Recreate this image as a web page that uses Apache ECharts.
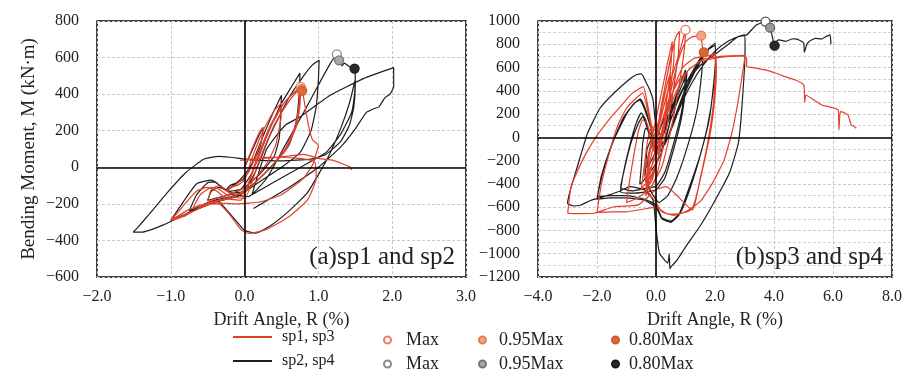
<!DOCTYPE html>
<html>
<head>
<meta charset="utf-8">
<title>Bending moment vs drift angle</title>
<script src="https://cdn.jsdelivr.net/npm/echarts@6/dist/echarts.min.js"></script>
<style>
  html, body { margin: 0; padding: 0; background: #fff; }
  #chart { width: 905px; height: 373px; }
</style>
</head>
<body>
<div id="chart"></div>
<script>
// drift angle R (%), bending moment M (kN·m)
var sp1Curve = [
  [0,0],[0.1,100],[0.2,190],[0.25,220],[0.24,160],[0.15,60],[0.05,-30],[-0.1,-90],[-0.25,-130],[-0.2,-110],[-0.1,-100],[0,-70],
  [0.1,50],[0.25,200],[0.4,310],[0.5,350],[0.49,260],[0.42,120],[0.3,20],[0.1,-80],[-0.1,-130],[-0.3,-160],[-0.5,-185],[-0.45,-120],[-0.35,-100],[-0.25,-130],[-0.1,-150],[0,-140],
  [0.15,30],[0.35,230],[0.55,360],[0.7,420],[0.75,435],[0.74,350],[0.68,220],[0.55,100],[0.35,0],[0.1,-100],[-0.15,-160],[-0.4,-185],[-0.7,-225],[-0.6,-150],[-0.45,-110],[-0.35,-120],[-0.2,-160],[0,-170],
  [0.2,40],[0.4,230],[0.6,360],[0.72,420],[0.76,430],[0.75,340],[0.7,220],[0.55,90],[0.3,-20],[0.05,-120],[-0.2,-170],[-0.45,-190],[-0.75,-230],[-1.0,-290],[-0.85,-220],[-0.65,-130],[-0.5,-110],[-0.38,-130],[-0.25,-170],[-0.05,-180],
  [0.15,20],[0.35,220],[0.55,360],[0.7,420],[0.77,432],[0.8,380],[0.86,240],[0.92,150],[1.0,120],[0.97,75],[0.93,20],[0.8,-60],[0.5,-150],[0.2,-190],[-0.1,-200],[-0.4,-195],[-0.7,-240],[-0.98,-290],[-0.8,-265],[-0.5,-200],[-0.35,-200],[-0.2,-260],[-0.05,-340],[0.05,-362],[0.3,-340],[0.6,-270],[0.85,-180],[0.97,-60],[0.95,30],[0.7,50],[0.3,55],[-0.06,38],[0.3,50],[0.5,56],[0.8,71],[1.02,47],[1.2,38],[1.43,2],[1.45,-15]
];
var sp2Curve = [
  [0,0],[0.1,90],[0.2,180],[0.25,215],[0.24,170],[0.2,100],[0.1,20],[0,-40],[-0.12,-90],[-0.25,-125],[-0.2,-100],[-0.1,-85],[0,-60],
  [0.1,20],[0.25,170],[0.4,310],[0.5,394],[0.49,300],[0.47,160],[0.4,60],[0.2,-40],[0,-110],[-0.2,-150],[-0.4,-170],[-0.5,-180],[-0.45,-130],[-0.35,-110],[-0.2,-130],[-0.05,-120],
  [0.1,-30],[0.3,170],[0.5,350],[0.65,450],[0.75,515],[0.74,400],[0.7,250],[0.6,120],[0.4,20],[0.15,-80],[-0.1,-150],[-0.4,-180],[-0.6,-210],[-0.75,-238],[-0.65,-150],[-0.5,-85],[-0.4,-80],[-0.3,-115],[-0.15,-140],[0,-130],
  [0.15,-20],[0.35,180],[0.6,380],[0.8,500],[0.92,560],[1.01,585],[1.0,480],[0.97,330],[0.9,200],[0.75,80],[0.5,0],[0.2,-80],[-0.1,-160],[-0.4,-190],[-0.7,-240],[-1.0,-290],[-0.85,-200],[-0.65,-90],[-0.45,-70],[-0.3,-110],[-0.15,-150],[0.05,-160],
  [0.3,-60],[0.55,120],[0.8,300],[1.0,450],[1.15,560],[1.25,618],[1.28,585],[1.32,555],[1.35,570],[1.42,550],[1.49,540],[1.5,460],[1.48,330],[1.42,230],[1.3,140],[1.1,70],[0.9,45],[0.5,35],[0.1,40],[-0.2,55],[-0.35,60],[-0.55,45],[-0.8,-30],[-1.05,-140],[-1.3,-260],[-1.45,-330],[-1.51,-355],[-1.4,-355],[-1.1,-315],[-0.8,-255],[-0.5,-195],[-0.38,-180],[-0.25,-230],[-0.1,-300],[0,-345],[0.15,-360],[0.35,-320],[0.6,-240],[0.85,-140],[1.0,-40],[1.15,70],[1.3,210],[1.42,350],[1.5,480],[1.49,400],[1.45,300],[1.3,180],[1.1,80],[0.8,10],[0.4,-80],[0.1,-150],
  [0.3,100],[0.55,230],[0.75,275],[1.16,394],[1.61,485],[2.02,545],[2.02,440],[1.97,400],[1.9,380],[1.82,330],[1.75,320],[1.65,300],[1.5,210],[1.3,110],[1.0,0],[0.6,-110],[0.12,-225]
];
var sp3Curve = [
  [0,0],[0.15,150],[0.3,300],[0.45,430],[0.5,480],[0.45,300],[0.3,100],[0.1,-100],[-0.1,-220],[-0.25,-300],[-0.3,-330],[-0.25,-200],[-0.15,-80],[0,-20],
  [0.2,250],[0.4,480],[0.5,560],[0.45,350],[0.3,100],[0.1,-150],[-0.2,-350],[-0.45,-430],[-0.5,-450],[-0.4,-250],[-0.3,-50],[-0.15,100],[0,50],
  [0.2,300],[0.45,620],[0.62,823],[0.6,650],[0.45,350],[0.25,50],[0,-250],[-0.3,-420],[-0.4,-300],[-0.2,-100],
  [0.1,150],[0.35,500],[0.55,750],[0.7,880],[0.8,910],[0.75,700],[0.55,350],[0.3,0],[0.05,-300],[-0.2,-450],[-0.35,-500],[-0.3,-300],[-0.2,-100],[-0.05,100],
  [0.2,400],[0.4,650],[0.55,820],[0.5,600],[0.3,200],[0.1,-150],[-0.15,-380],[-0.3,-420],[-0.2,-200],[0,0],
  [0.2,200],[0.45,450],[0.7,650],[0.85,780],[1.0,923],[0.97,780],[0.85,550],[0.65,250],[0.45,0],[0.2,-250],[-0.1,-400],[-0.4,-480],[-0.7,-530],[-1.0,-560],[-0.9,-380],[-0.75,-150],[-0.6,50],[-0.45,150],[-0.3,120],[-0.15,-50],[0,-150],
  [0.25,100],[0.55,450],[0.8,700],[1.0,820],[1.2,860],[1.35,870],[1.53,874],[1.56,800],[1.6,740],[1.62,731],[1.75,700],[2.0,722],[2.05,600],[2.0,350],[1.85,50],[1.6,-250],[1.35,-520],[1.2,-620],[0.9,-650],[0.6,-660],[0.34,-652],[0.0,-600],[-0.5,-620],[-1.0,-640],[-1.5,-640],[-2.0,-645],[-1.85,-400],[-1.6,-150],[-1.3,100],[-1.0,250],[-0.7,330],[-0.45,380],[-0.3,250],[-0.15,50],[0,-150],
  [0.3,150],[0.6,420],[0.9,600],[1.3,680],[1.7,700],[2.0,710],[2.02,600],[1.95,300],[1.75,-50],[1.5,-350],[1.23,-624],[0.34,-424],[0.0,-450],[-0.6,-580],[-1.43,-596],[-2.1,-652],[-2.6,-655],[-2.99,-652],[-2.88,-424],[-2.5,-200],[-2.1,-22],[-1.6,150],[-1.21,264],[-0.8,380],[-0.43,436],[-0.3,300],[-0.15,100],[0,-100],
  [0.3,150],[0.7,400],[1.1,580],[1.5,650],[2.0,680],[2.5,695],[3.01,700],[3.0,665],[2.79,321],[2.57,35],[2.3,-200],[1.9,-400],[1.5,-550],[1.0,-640],[0.6,-670],[0.2,-640],[0,-560],[-0.3,-450],[-0.1,-200],[0.1,50],
  [0.4,300],[0.8,500],[1.2,600],[1.6,670],[2.0,690],[2.5,700],[3.0,705],[3.07,680],[3.07,608],[3.29,600],[3.7,580],[4.07,551],[4.4,520],[4.73,493],[5.01,450],[5.04,301],[5.08,364],[5.3,330],[5.62,278],[5.84,264],[6.18,235],[6.2,64],[6.25,221],[6.4,210],[6.51,192],[6.62,107],[6.7,95],[6.79,78]
];
var sp4Curve = [
  [0,0],[0.15,80],[0.3,180],[0.4,240],[0.35,120],[0.2,0],[0,-120],[-0.2,-220],[-0.3,-260],[-0.25,-150],[-0.15,-50],[0,-20],
  [0.2,120],[0.4,260],[0.55,340],[0.5,180],[0.35,0],[0.1,-180],[-0.2,-300],[-0.45,-380],[-0.55,-400],[-0.5,-250],[-0.45,-50],[-0.35,80],[-0.2,40],[0,-60],
  [0.3,100],[0.6,300],[0.85,480],[1.0,580],[0.97,420],[0.85,200],[0.6,-50],[0.3,-300],[0,-420],[-0.4,-440],[-0.8,-460],[-1.2,-430],[-1.05,-250],[-0.85,-50],[-0.6,120],[-0.45,178],[-0.35,120],[-0.2,0],[0,-120],
  [0.3,80],[0.6,280],[0.9,460],[1.05,560],[1.0,400],[0.85,150],[0.6,-100],[0.3,-350],[0,-450],[-0.4,-470],[-0.8,-480],[-1.2,-470],[-1.1,-300],[-0.9,-80],[-0.7,100],[-0.5,210],[-0.35,150],[-0.2,0],[0,-150],
  [0.2,-100],[0.5,150],[0.8,350],[1.2,550],[1.5,680],[1.6,720],[1.55,550],[1.4,250],[1.1,-50],[0.7,-350],[0.4,-500],[0.1,-560],[-0.2,-450],[-0.35,-300],[-0.3,-100],[-0.1,0],
  [0.3,-50],[0.6,150],[1.0,420],[1.4,620],[1.7,740],[2.0,809],[2.02,700],[1.95,450],[1.8,150],[1.5,-150],[1.1,-450],[0.8,-650],[0.5,-720],[0.2,-690],[0.0,-580],[-0.4,-530],[-1.0,-500],[-1.5,-500],[-1.99,-509],[-1.8,-300],[-1.43,-22],[-1.0,200],[-0.7,300],[-0.54,330],[-0.4,270],[-0.2,120],[0,-80],
  [0.3,-60],[0.7,200],[1.1,450],[1.5,650],[1.8,760],[2.0,790],[2.02,680],[1.95,420],[1.75,100],[1.45,-200],[1.1,-480],[0.8,-660],[0.5,-730],[0.2,-700],[0.0,-600],[-0.4,-540],[-1.0,-520],[-1.5,-520],[-2.0,-530],[-1.85,-330],[-1.5,-60],[-1.1,170],[-0.75,290],[-0.55,320],[-0.4,250],[-0.2,100],[0,-100],
  [0.4,0],[0.8,250],[1.2,460],[1.6,620],[2.0,740],[2.4,820],[2.79,866],[3.01,880],[3.02,780],[3.0,600],[2.95,400],[2.88,150],[2.79,-51],[2.5,-300],[2.01,-538],[1.5,-760],[1.01,-939],[0.7,-1060],[0.51,-1111],[0.47,-1130],[0.45,-1000],[0.4,-1080],[0.12,-996],[0.0,-780],[-0.1,-538],[-0.4,-450],[-0.88,-424],[-1.3,-470],[-1.77,-509],[-2.2,-540],[-2.54,-581],[-2.8,-590],[-3.0,-566],[-2.9,-450],[-2.7,-280],[-2.32,35],[-1.9,250],[-1.43,379],[-0.9,500],[-0.65,540],[-0.49,545],[-0.35,480],[-0.21,407],[-0.1,321],[0.0,100],
  [0.2,0],[0.5,200],[1.01,465],[1.5,620],[1.9,694],[2.4,790],[2.79,866],[3.07,880],[3.4,966],[3.71,995],[3.87,943],[4.02,788],[4.1,830],[4.18,837],[4.4,825],[4.6,845],[4.73,846],[4.9,830],[5.01,808],[5.03,731],[5.1,790],[5.18,822],[5.4,851],[5.6,845],[5.75,865],[5.9,880],[5.93,800]
];

// Max, 0.95Max, 0.80Max points
var sp1Max = [[0.76, 440]], sp1Max95 = [[0.77, 428]], sp1Max80 = [[0.78, 418]];
var sp2Max = [[1.25, 618]], sp2Max95 = [[1.28, 585]], sp2Max80 = [[1.49, 540]];
var sp3Max = [[1.0, 923]], sp3Max95 = [[1.53, 874]], sp3Max80 = [[1.62, 731]];
var sp4Max = [[3.71, 995]], sp4Max95 = [[3.87, 943]], sp4Max80 = [[4.02, 788]];

var panelLabels = ['(a)sp1 and sp2', '(b)sp3 and sp4'];
var lineNames = ['sp1, sp3', 'sp2, sp4'];
var markNamesRed = ['Max', '0.95Max', '0.80Max'];
var markNamesBlack = ['Max ', '0.95Max ', '0.80Max '];

var RED = '#e3402b';
var BLACK = '#1e1e1e';
var FONT = 'Liberation Serif';

function fmt(v, digits) {
  return v.toFixed(digits).replace('-', '\u2212');
}

function axisX(idx, min, max, interval) {
  return {
    type: 'value', gridIndex: idx, min: min, max: max, interval: interval,
    name: 'Drift Angle, R (%)', nameLocation: 'middle', nameGap: 34,
    nameTextStyle: {fontFamily: FONT, fontSize: 18, color: '#222'},
    axisLine: {show: false}, axisTick: {show: false},
    axisLabel: {fontFamily: FONT, fontSize: 16, color: '#222', margin: 12,
      formatter: function (v) { return fmt(v, 1); }},
    splitLine: {show: true, lineStyle: {color: '#c9c9c9', type: [3, 2], width: 1}}
  };
}

function axisY(idx, min, max, name, minor) {
  return {
    type: 'value', gridIndex: idx, min: min, max: max, interval: 200,
    name: name, nameLocation: 'middle', nameGap: 58,
    nameTextStyle: {fontFamily: FONT, fontSize: 19, color: '#222'},
    axisLine: {show: false}, axisTick: {show: false},
    axisLabel: {fontFamily: FONT, fontSize: 16, color: '#222', margin: 18,
      formatter: function (v) { return fmt(v, 0); }},
    splitLine: {show: true, lineStyle: {color: '#c9c9c9', type: [3, 2], width: 1}},
    minorTick: {show: false, splitNumber: 2},
    minorSplitLine: {show: minor, lineStyle: {color: '#d6d6d6', type: [3, 2], width: 1}}
  };
}

function curve(name, idx, data, color) {
  return {
    name: name, type: 'line', xAxisIndex: idx, yAxisIndex: idx,
    data: data, showSymbol: false, symbol: 'none', smooth: 0.15,
    lineStyle: {color: color, width: 1.2}, itemStyle: {color: color},
    z: 3, animation: false
  };
}

function marker(name, idx, data, fill, border) {
  return {
    name: name, type: 'scatter', xAxisIndex: idx, yAxisIndex: idx, data: data,
    symbol: 'circle', symbolSize: 9,
    itemStyle: {color: fill, borderColor: border, borderWidth: 1.3, opacity: 1},
    z: 5, animation: false
  };
}

function zeroLines(idx) {
  return {
    type: 'line', xAxisIndex: idx, yAxisIndex: idx, data: [], z: 2, silent: true,
    markLine: {
      silent: true, symbol: 'none', animation: false,
      label: {show: false},
      lineStyle: {color: '#000', width: 1.6, type: 'solid'},
      data: [{xAxis: 0}, {yAxis: 0}]
    }
  };
}

// one legend block per entry so each sits where it does in the figure
function legendLine(name, left, top) {
  return {
    data: [{name: name, icon: 'rect'}], left: left, top: top, padding: 0,
    itemWidth: 39, itemHeight: 2, selectedMode: false,
    textStyle: {fontFamily: FONT, fontSize: 16, color: '#222', padding: [2, 0, 0, 5]}
  };
}

function legendMark(name, left, top, gap) {
  return {
    data: [name], left: left, top: top, padding: 0,
    itemWidth: 7, itemHeight: 7, selectedMode: false,
    formatter: function (n) { return n.trim(); },
    textStyle: {fontFamily: FONT, fontSize: 18, color: '#222', padding: [0, 0, 0, gap]}
  };
}

var chart = echarts.init(document.getElementById('chart'), null, {renderer: 'canvas'});

var option = {
  backgroundColor: '#fff',
  animation: false,
  title: [
    {text: panelLabels[0], right: 445, top: 240,
      textStyle: {fontFamily: FONT, fontSize: 25, fontWeight: 'normal', color: '#222'}},
    {text: panelLabels[1], right: 17, top: 240,
      textStyle: {fontFamily: FONT, fontSize: 25, fontWeight: 'normal', color: '#222'}}
  ],
  grid: [
    {left: 97, right: 439, top: 21, bottom: 96, show: true, borderColor: '#000', borderWidth: 1.5},
    {left: 538, right: 7, top: 21, bottom: 96, show: true, borderColor: '#000', borderWidth: 1.5}
  ],
  xAxis: [axisX(0, -2, 3, 1), axisX(1, -4, 8, 2)],
  yAxis: [axisY(0, -600, 800, 'Bending Moment, M (kN\u00b7m)', false), axisY(1, -1200, 1000, '', true)],
  legend: [
    legendLine(lineNames[0], 233, 329),
    legendMark(markNamesRed[0], 383, 331, 10),
    legendMark(markNamesRed[1], 478, 331, 8),
    legendMark(markNamesRed[2], 611, 331, 5),
    legendLine(lineNames[1], 233, 353),
    legendMark(markNamesBlack[0], 383, 355, 10),
    legendMark(markNamesBlack[1], 478, 355, 8),
    legendMark(markNamesBlack[2], 611, 355, 5)
  ],
  series: [
    zeroLines(0),
    zeroLines(1),
    curve(lineNames[1], 0, sp2Curve, BLACK),
    curve(lineNames[0], 0, sp1Curve, RED),
    curve(lineNames[1], 1, sp4Curve, BLACK),
    curve(lineNames[0], 1, sp3Curve, RED),
    marker(markNamesBlack[0], 0, sp2Max, '#ffffff', '#8a8a8a'),
    marker(markNamesBlack[1], 0, sp2Max95, '#a8a8a8', '#777777'),
    marker(markNamesBlack[2], 0, sp2Max80, '#2a2a2a', '#1a1a1a'),
    marker(markNamesRed[0], 0, sp1Max, '#ffffff', '#ee7a66'),
    marker(markNamesRed[1], 0, sp1Max95, '#f3a585', '#e97a55'),
    marker(markNamesRed[2], 0, sp1Max80, '#dd6a3e', '#d25a30'),
    marker(markNamesBlack[0], 1, sp4Max, '#ffffff', '#555555'),
    marker(markNamesBlack[1], 1, sp4Max95, '#999999', '#666666'),
    marker(markNamesBlack[2], 1, sp4Max80, '#2a2a2a', '#1a1a1a'),
    marker(markNamesRed[0], 1, sp3Max, '#ffffff', '#ee6f5a'),
    marker(markNamesRed[1], 1, sp3Max95, '#f3a585', '#e97a55'),
    marker(markNamesRed[2], 1, sp3Max80, '#d9662f', '#cc5a28')
  ]
};

chart.setOption(option);
</script>
</body>
</html>
